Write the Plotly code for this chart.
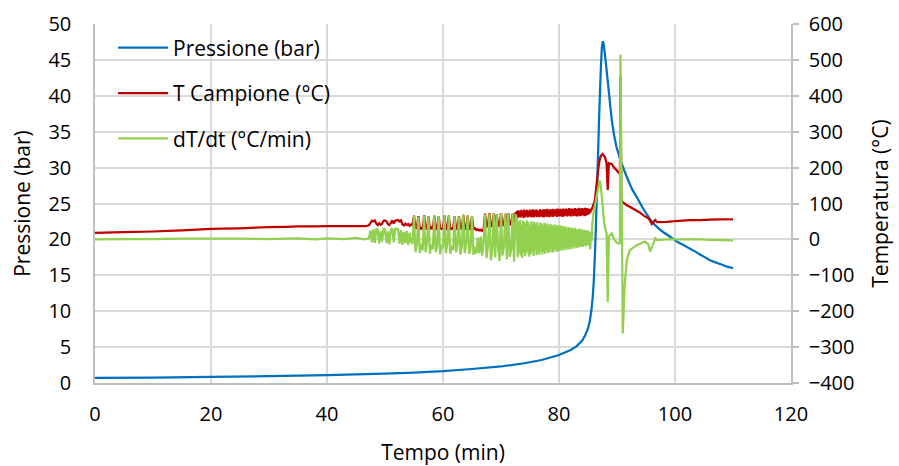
import plotly.graph_objects as go

# ---------------- data ----------------
p_time = [0, 10, 20, 30, 40, 50, 55, 60, 65, 70, 74, 77, 80, 82, 83, 84, 84.5, 85, 85.3, 85.6,
          85.8, 86.0, 86.2, 86.35, 86.5, 86.7, 86.9, 87.1, 87.25, 87.4, 87.55, 87.7, 87.9,
          88.2, 88.5, 88.8, 89.1, 89.5, 89.9, 90.5, 91.2, 91.9, 92.6, 93.4, 94.5, 95.7, 96.3,
          97.2, 98, 99.1, 100.3, 101.5, 102.6, 103.5, 104.3, 105.2, 106, 107, 108, 109, 110]
pressione = [0.7, 0.75, 0.85, 0.95, 1.1, 1.3, 1.45, 1.65, 1.95, 2.3, 2.75, 3.2, 3.9, 4.6, 5.1,
             5.9, 6.6, 7.6, 8.6, 10.2, 11.8, 14.2, 18, 21.5, 25.5, 31, 36.5, 41.3, 44.5, 46.8,
             47.6, 47.2, 45.9, 43.6, 41.3, 38.9, 36.6, 34.5, 32.9, 31.3, 29.7, 28.3, 27.0, 25.9,
             24.3, 22.8, 22.2, 21.5, 21.0, 20.4, 19.7, 19.2, 18.7, 18.3, 17.9, 17.5, 17.1,
             16.8, 16.5, 16.2, 16.0]

t_time = [0, 5, 10, 15, 20, 22, 25, 30, 33, 35, 38, 40, 43, 45, 46.5, 47.0,
          47.25, 47.5, 47.75, 48, 48.25, 48.5, 48.75, 49, 49.25, 49.5,
          49.75, 50, 50.25, 50.5, 50.75, 51, 51.25, 51.5, 51.75, 52,
          52.25, 52.5, 52.75, 53, 53.25, 53.5, 53.75, 54, 54.25, 54.5,
          54.75, 55, 55.25, 55.5, 55.75, 56, 56.25, 56.5, 56.75, 57,
          57.25, 57.5, 57.75, 58, 58.25, 58.5, 58.75, 59, 59.25, 59.5,
          59.75, 60, 60.25, 60.5, 60.75, 61, 61.25, 61.5, 61.75, 62,
          62.25, 62.5, 62.75, 63, 63.25, 63.5, 63.75, 64, 64.25, 64.5,
          64.75, 65, 65.25, 65.5, 65.75, 66, 66.25, 66.5, 66.75, 67,
          67.25, 67.5, 67.75, 68, 68.25, 68.5, 68.75, 69, 69.25, 69.5,
          69.75, 70, 70.25, 70.5, 70.75, 71, 71.25, 71.5, 71.75, 72,
          72.25, 72.5,
          72.75, 72.875, 73, 73.125, 73.25, 73.375, 73.5, 73.625, 73.75, 73.875,
          74, 74.125, 74.25, 74.375, 74.5, 74.625, 74.75, 74.875, 75, 75.125,
          75.25, 75.375, 75.5, 75.625, 75.75, 75.875, 76, 76.125, 76.25, 76.375,
          76.5, 76.625, 76.75, 76.875, 77, 77.125, 77.25, 77.375, 77.5, 77.625,
          77.75, 77.875, 78, 78.125, 78.25, 78.375, 78.5, 78.625, 78.75, 78.875,
          79, 79.125, 79.25, 79.375, 79.5, 79.625, 79.75, 79.875, 80, 80.125,
          80.25, 80.375, 80.5, 80.625, 80.75, 80.875, 81, 81.125, 81.25, 81.375,
          81.5, 81.625, 81.75, 81.875, 82, 82.125, 82.25, 82.375, 82.5, 82.625,
          82.75, 82.875, 83, 83.125, 83.25, 83.375, 83.5, 83.625, 83.75, 83.875,
          84, 84.125, 84.25, 84.375, 84.5, 84.625, 84.75, 84.875, 85, 85.125,
          85.25, 85.375, 85.5, 85.625, 85.75,
          86.0, 86.2, 86.5, 86.8, 87.0, 87.2, 87.5, 87.7, 87.9, 88.2, 88.4, 88.6, 89.1,
          89.5, 89.9, 90.3, 90.5, 90.6, 90.75, 91.0, 91.3, 91.7, 92.2, 93.4, 94.0, 94.8,
          95.4, 95.7, 96.0, 96.6, 96.9, 98.6, 100, 102.6, 104.3, 106, 108, 110]

t_campione = [18, 20, 22, 25, 29, 30, 31, 34, 35, 36, 36, 37, 37, 37, 37, 38,
              40, 46, 52, 50, 53, 44, 40, 45, 41, 44,
              52, 53, 50, 43, 40, 45, 53, 44, 52, 53,
              54, 50, 53, 42, 39, 44, 40, 43, 38, 42,
              40, 66, 30, 33, 65, 29, 32, 28, 67, 31,
              30, 64, 28, 33, 29, 66, 30, 27, 65, 32,
              29, 31, 67, 28, 30, 66, 27, 31, 29, 65,
              30, 28, 64, 32, 29, 68, 31, 28, 66, 30,
              27, 65, 29, 31, 26, 28, 25, 27, 24, 28,
              72, 34, 40, 73, 36, 38, 72, 35, 70, 41,
              36, 73, 38, 42, 71, 37, 73, 40, 44, 72,
              45, 73,
              76, 60, 81, 63, 79, 61, 82, 66, 78, 60,
              83, 62, 80, 64, 82, 61, 79, 65, 83, 62,
              81, 63, 84, 61, 80, 66, 83, 62, 82, 64,
              79, 62, 84, 65, 81, 63, 83, 61, 84, 66,
              82, 63, 85, 64, 81, 62, 84, 66, 83, 63,
              85, 64, 82, 67, 84, 63, 86, 65, 83, 64,
              85, 66, 84, 63, 86, 65, 83, 67, 86, 64,
              84, 66, 87, 65, 85, 64, 86, 67, 84, 65,
              87, 66, 85, 64, 86, 67, 88, 65, 85, 66,
              87, 68, 86, 65, 88, 66, 87, 68, 86, 70,
              85, 74, 82, 84, 88,
              100, 110, 156, 200, 221, 232, 238, 234, 230, 212, 138, 212, 210,
              200, 193, 186, 182, 453, 110, 103, 100, 95, 91, 80, 74, 64,
              59, 52, 43, 54, 48, 49, 51, 54, 54, 55, 56, 56]

dt_dt = [0, 1, 1, 2, 2, 2, 2, 1, 2, 3, 0, 3, 1, 4, 0, 2,
         5, 25, -8, 28, -10, 30, 26, -12, 24, -6,
         30, 28, -10, 22, -14, 27, 31, -8, 29, 30,
         28, -12, 26, -15, 20, -10, 24, -16, 18, -8,
         -10, 65, -35, -15, 63, -38, -12, -30, 66, -36,
         -10, 64, -40, -14, -28, 67, -35, -20, 65, -42,
         -15, -25, 68, -38, -12, 66, -40, -18, -30, 64,
         -36, -15, 63, -42, -20, 69, -38, -10, 66, -40,
         -25, 65, -43, -20, -40, 5, -38, 8, -45, -5,
         70, -52, -20, 72, -58, -30, 71, -50, 70, -25,
         -60, 73, -45, -20, 72, -55, 73, -48, -30, 71,
         -62, 70,
         56, -50, 48, -38, 54, -45, 40, -52, 52, -36,
         50, -47, 44, -40, 53, -33, 47, -48, 38, -42,
         51, -36, 45, -46, 49, -30, 42, -44, 48, -38,
         36, -43, 47, -32, 44, -41, 39, -35, 46, -40,
         41, -30, 44, -38, 35, -36, 43, -28, 40, -37,
         38, -33, 42, -27, 36, -35, 40, -30, 33, -32,
         39, -26, 35, -31, 37, -24, 32, -30, 36, -25,
         30, -28, 34, -22, 31, -27, 33, -21, 28, -25,
         32, -20, 29, -24, 27, -19, 30, -22, 26, -18,
         28, -21, 24, -16, 27, -19, 23, -15, 25, -17,
         22, -28, 15, -5, 45,
         80, 95, 120, 147, 165, 150, 100, 60, 35, 17, -174, 8, 17,
         0, -8, -12, -10, 514, 220, -262, -132, -57, -30, -16, -12, -6,
         -13, -34, -22, 3, -2, 0, 0, 0, 0, -1, -2, -3]

x_ticks = [0, 20, 40, 60, 80, 100, 120]
names = ["Pressione (bar)", "T Campione (°C)", "dT/dt (°C/min)"]
colors = ["#0070C0", "#C00000", "#92D050"]

FONT = "Open Sans"
GRID = "#D9D9D9"
AXIS = "#BFBFBF"
TICK_SIZE = 20
TITLE_SIZE = 21

fig = go.Figure()
fig.add_trace(go.Scatter(x=p_time, y=pressione, name=names[0], mode="lines",
                         line=dict(color=colors[0], width=2.25, simplify=False), legendgroup="a"))
fig.add_trace(go.Scatter(x=t_time, y=t_campione, name=names[1], mode="lines", yaxis="y2",
                         line=dict(color=colors[1], width=2.25, simplify=False), legendgroup="b"))
fig.add_trace(go.Scatter(x=t_time, y=dt_dt, name=names[2], mode="lines", yaxis="y2",
                         line=dict(color=colors[2], width=2.25, simplify=False), legendgroup="c"))

fig.update_layout(
    width=899, height=466,
    margin=dict(l=95, r=108, t=24, b=83),
    paper_bgcolor="white", plot_bgcolor="white",
    font=dict(family=FONT, size=TICK_SIZE, color="#000000"),
    showlegend=True,
    legend=dict(x=0.026, y=0.99, xanchor="left", yanchor="top",
                bgcolor="rgba(255,255,255,0)", font=dict(size=TITLE_SIZE, family=FONT),
                tracegroupgap=15, itemwidth=50),
    xaxis=dict(range=[0, 120], tickvals=x_ticks, showgrid=True, gridcolor=GRID, gridwidth=1.5,
               zeroline=False, showline=True, linecolor=AXIS, linewidth=1.5, automargin=False,
               ticks="", tickfont=dict(size=TICK_SIZE), ticklabelstandoff=12,
               title=dict(text="Tempo (min)", font=dict(size=TITLE_SIZE), standoff=26)),
    yaxis=dict(range=[0, 50], dtick=5, showgrid=True, gridcolor=GRID, gridwidth=1.5,
               zeroline=False, showline=True, linecolor=AXIS, linewidth=1.5, automargin=False,
               ticks="", tickfont=dict(size=TICK_SIZE), ticklabelstandoff=18,
               title=dict(text="Pressione (bar)", font=dict(size=TITLE_SIZE), standoff=12)),
    yaxis2=dict(range=[-400, 600], dtick=100, overlaying="y", side="right", showgrid=False,
                zeroline=False, showline=True, linecolor=AXIS, linewidth=1.5, automargin=False,
                ticks="outside", ticklen=6, tickcolor=AXIS, tickwidth=1.5,
                tickfont=dict(size=TICK_SIZE), ticklabelstandoff=6,
                title=dict(text="Temperatura (°C)", font=dict(size=TITLE_SIZE), standoff=20)),
)

fig.write_html("out.html", config={"displayModeBar": False},
               post_script="document.body.style.margin='0';document.body.style.padding='0';")
